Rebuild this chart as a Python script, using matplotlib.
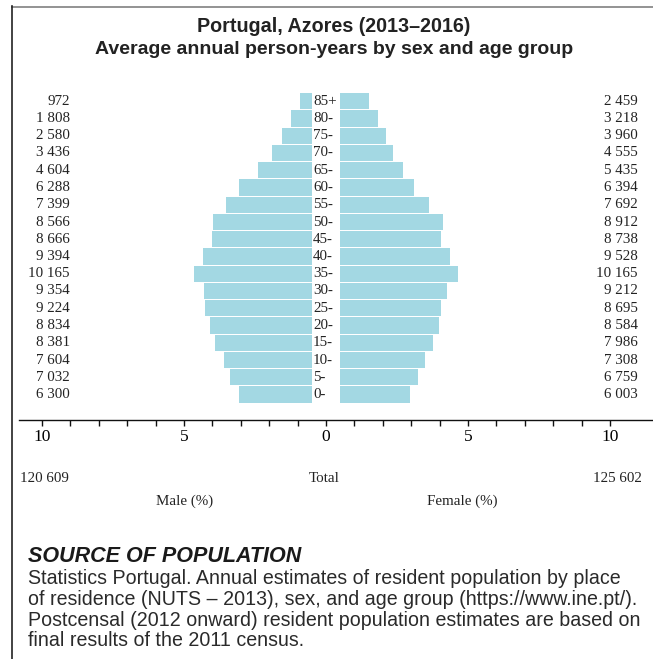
import matplotlib
matplotlib.use("Agg")
import matplotlib.pyplot as plt
from matplotlib.lines import Line2D
import matplotlib.transforms as mtransforms

# ---------------- data ----------------
age_groups = ["0-", "5-", "10-", "15-", "20-", "25-", "30-", "35-", "40-",
              "45-", "50-", "55-", "60-", "65-", "70-", "75-", "80-", "85+"]
male = [6300, 7032, 7604, 8381, 8834, 9224, 9354, 10165, 9394,
        8666, 8566, 7399, 6288, 4604, 3436, 2580, 1808, 972]
female = [6003, 6759, 7308, 7986, 8584, 8695, 9212, 10165, 9528,
          8738, 8912, 7692, 6394, 5435, 4555, 3960, 3218, 2459]
male_total = 120609
female_total = 125602
tick_values = [-10, -5, 0, 5, 10]
tick_labels = ["10", "5", "0", "5", "10"]
title_lines = ["Portugal, Azores (2013\u20132016)",
               "Average annual person-years by sex and age group"]
source_head = "SOURCE OF POPULATION"
source_lines = [
    "Statistics Portugal. Annual estimates of resident population by place",
    "of residence (NUTS \u2013 2013), sex, and age group (https://www.ine.pt/).",
    "Postcensal (2012 onward) resident population estimates are based on",
    "final results of the 2011 census.",
]

# ---------------- layout ----------------
W, H = 653, 659
fig = plt.figure(figsize=(W / 100, H / 100), dpi=100)
fig.patch.set_facecolor("white")

def fx(px):
    return px / W

def fy(py):
    return 1 - py / H

BAR = "#a3d8e3"
SERIF = ["Liberation Serif", "DejaVu Serif"]
SANS = ["Liberation Sans", "DejaVu Sans"]
gap = 0.51  # half-gap in percent units reserved for age labels

x0_px, scale = 326.0, 28.4
ax_left, ax_right = 19, 653
ax_bottom, ax_top = 420, 85
ax = fig.add_axes([fx(ax_left), fy(ax_bottom), fx(ax_right - ax_left),
                   (ax_bottom - ax_top) / H])
ax.set_xlim((ax_left - x0_px) / scale, (ax_right - x0_px) / scale)
row_px = 17.25
c0_px = 394.5
ax.set_ylim(-(ax_bottom - c0_px) / row_px, (c0_px - ax_top) / row_px)
ax.patch.set_alpha(0)

grand = sum(male) + sum(female)
ypos = list(range(len(age_groups)))
male_pct = [v / grand * 100 for v in male]
female_pct = [v / grand * 100 for v in female]

ax.barh(ypos, [-p for p in male_pct], left=-gap, height=0.93, color=BAR,
        edgecolor="none")
ax.barh(ypos, female_pct, left=gap, height=0.93, color=BAR, edgecolor="none")

for s in ["top", "left", "right"]:
    ax.spines[s].set_visible(False)
ax.spines["bottom"].set_linewidth(1.0)
ax.spines["bottom"].set_color("#111111")
ax.set_yticks([])
ax.set_xticks(range(-10, 11), minor=True)
ax.set_xticks(tick_values)
ax.set_xticklabels(tick_labels, fontfamily=SERIF, fontsize=12.5)
ax.tick_params(axis="x", which="both", direction="out", length=4, width=1,
               color="#111111", pad=2.5)

trans = mtransforms.blended_transform_factory(fig.transFigure, ax.transData)
fmt = lambda v: f"{v:,}".replace(",", " ")
for i, (a, m, f) in enumerate(zip(age_groups, male, female)):
    ax.text(fx(70), i, fmt(m), transform=trans, ha="right", va="center",
            fontfamily=SERIF, fontsize=10.8, color="#222222")
    ax.text(fx(638), i, fmt(f), transform=trans, ha="right", va="center",
            fontfamily=SERIF, fontsize=10.8, color="#222222")
    ax.text(fx(313), i, a, transform=trans, ha="left", va="center",
            fontfamily=SERIF, fontsize=10.8, color="#222222")

fig.text(fx(20), fy(479), fmt(male_total), ha="left", va="center",
         fontfamily=SERIF, fontsize=10.8, color="#222222")
fig.text(fx(642), fy(479), fmt(female_total), ha="right", va="center",
         fontfamily=SERIF, fontsize=10.8, color="#222222")
fig.text(fx(324), fy(479), "Total", ha="center", va="center",
         fontfamily=SERIF, fontsize=10.8, color="#222222")
fig.text(fx(185), fy(501), "Male (%)", ha="center", va="center",
         fontfamily=SERIF, fontsize=10.8, color="#222222")
fig.text(fx(462), fy(501), "Female (%)", ha="center", va="center",
         fontfamily=SERIF, fontsize=10.8, color="#222222")

fig.text(fx(334), fy(27), title_lines[0], ha="center", va="center",
         fontfamily=SANS, fontweight="bold", fontsize=14.2, color="#222222")
fig.text(fx(334), fy(50), title_lines[1], ha="center", va="center",
         fontfamily=SANS, fontweight="bold", fontsize=14.0, color="#222222")

fig.text(fx(28), fy(556), source_head, ha="left", va="center",
         fontfamily=SANS, fontweight="bold", fontstyle="italic", fontsize=15.5,
         color="#1a1a1a")
for k, line in enumerate(source_lines):
    fig.text(fx(28), fy(579 + 20.6 * k), line, ha="left", va="center",
             fontfamily=SANS, fontsize=14.1, color="#2a2a2a")

fig.add_artist(Line2D([fx(12), 1], [fy(6.5), fy(6.5)], transform=fig.transFigure,
                      color="#8a8a8a", lw=1.3))
fig.add_artist(Line2D([fx(12), fx(12)], [fy(6), 0], transform=fig.transFigure,
                      color="#222222", lw=1.2))

fig.savefig("out.png", dpi=100, facecolor="white")
